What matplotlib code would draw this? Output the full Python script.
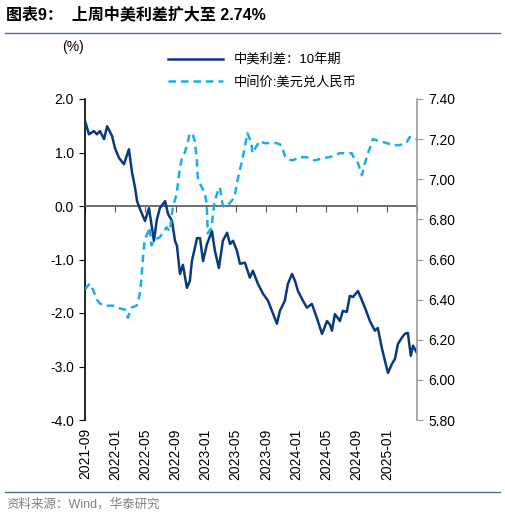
import matplotlib
matplotlib.use("Agg")
import matplotlib.pyplot as plt
import matplotlib.dates as mdates
import pandas as pd
from matplotlib.lines import Line2D

plt.rcParams['font.family'] = ['Liberation Sans', 'Noto Sans CJK SC', 'DejaVu Sans']

# 中美利差：10年期 (%)
spread_dates = [
    "2021-09-01", "2021-09-17", "2021-10-07", "2021-10-19", "2021-10-31", "2021-11-17",
    "2021-11-29", "2021-12-19", "2021-12-31", "2022-01-16", "2022-02-05", "2022-02-25",
    "2022-03-10", "2022-03-22", "2022-03-30", "2022-04-11", "2022-05-01", "2022-05-17",
    "2022-06-06", "2022-06-18", "2022-06-30", "2022-07-21", "2022-08-02", "2022-08-18",
    "2022-08-30", "2022-09-07", "2022-09-19", "2022-10-01", "2022-10-17", "2022-10-29",
    "2022-11-06", "2022-11-27", "2022-12-09", "2022-12-21", "2023-01-06", "2023-01-26",
    "2023-02-07", "2023-02-23", "2023-03-11", "2023-03-28", "2023-04-09", "2023-04-21",
    "2023-05-07", "2023-05-19", "2023-06-08", "2023-06-28", "2023-07-10", "2023-07-31",
    "2023-08-20", "2023-09-09", "2023-09-25", "2023-10-15", "2023-10-27", "2023-11-16",
    "2023-11-28", "2023-12-15", "2023-12-27", "2024-01-08", "2024-01-28", "2024-02-13",
    "2024-03-04", "2024-03-24", "2024-04-14", "2024-05-04", "2024-05-16", "2024-05-24",
    "2024-06-05", "2024-06-25", "2024-07-07", "2024-07-23", "2024-08-04", "2024-08-17",
    "2024-09-06", "2024-09-18", "2024-10-04", "2024-10-24", "2024-11-13", "2024-11-25",
    "2024-12-11", "2024-12-24", "2025-01-05", "2025-01-21", "2025-02-02", "2025-02-14",
    "2025-03-02", "2025-03-14", "2025-03-26", "2025-04-07", "2025-04-16", "2025-05-01",
]
spread_vals = [
    1.59, 1.34, 1.40, 1.34, 1.40, 1.25,
    1.49, 1.31, 1.08, 0.90, 0.78, 1.06,
    0.62, 0.34, 0.09, -0.06, -0.28, -0.04,
    -0.65, -0.25, -0.04, 0.09, -0.15, -0.28,
    -0.65, -0.75, -1.27, -1.10, -1.53, -1.40,
    -1.03, -0.60, -0.60, -1.03, -0.71, -0.47,
    -0.84, -1.16, -0.65, -0.50, -0.71, -0.65,
    -0.84, -1.08, -1.06, -1.34, -1.21, -1.46,
    -1.64, -1.77, -1.96, -2.20, -1.96, -1.77,
    -1.46, -1.27, -1.40, -1.59, -1.77, -1.90,
    -1.83, -2.09, -2.39, -2.15, -2.22, -2.33,
    -2.02, -2.15, -1.96, -1.98, -1.68, -1.70,
    -1.59, -1.72, -1.90, -2.15, -2.33, -2.28,
    -2.65, -2.90, -3.12, -2.95, -2.86, -2.58,
    -2.46, -2.39, -2.37, -2.80, -2.61, -2.74,
]

# 中间价:美元兑人民币
fx_dates = [
    "2021-09-01", "2021-09-13", "2021-09-21", "2021-10-03", "2021-10-19", "2021-10-31",
    "2021-11-28", "2021-12-23", "2022-01-20", "2022-02-09", "2022-02-21", "2022-03-08",
    "2022-03-28", "2022-04-09", "2022-04-17", "2022-04-21", "2022-04-29", "2022-05-11",
    "2022-05-19", "2022-05-27", "2022-06-09", "2022-06-29", "2022-07-27", "2022-08-09",
    "2022-08-21", "2022-09-06", "2022-09-18", "2022-09-26", "2022-10-08", "2022-10-20",
    "2022-10-28", "2022-11-10", "2022-11-18", "2022-11-26", "2022-11-30", "2022-12-08",
    "2022-12-16", "2022-12-28", "2023-01-05", "2023-01-09", "2023-01-25", "2023-01-30",
    "2023-02-07", "2023-02-19", "2023-02-27", "2023-03-09", "2023-03-17", "2023-04-07",
    "2023-04-27", "2023-05-09", "2023-05-25", "2023-06-06", "2023-06-18", "2023-07-04",
    "2023-07-08", "2023-07-20", "2023-08-06", "2023-08-26", "2023-09-16", "2023-10-14",
    "2023-11-03", "2023-11-15", "2023-11-27", "2023-12-17", "2024-01-15", "2024-02-12",
    "2024-03-15", "2024-04-16", "2024-05-27", "2024-06-24", "2024-07-22", "2024-08-11",
    "2024-08-24", "2024-09-06", "2024-09-22", "2024-10-04", "2024-10-16", "2024-11-01",
    "2024-11-05", "2024-12-03", "2025-01-01", "2025-01-25", "2025-02-22", "2025-03-20",
    "2025-04-02", "2025-04-22", "2025-05-01",
]
fx_vals = [
    6.45, 6.47, 6.48, 6.45, 6.40, 6.38,
    6.37, 6.37, 6.356, 6.35, 6.31, 6.36,
    6.37, 6.42, 6.51, 6.58, 6.695, 6.73,
    6.76, 6.67, 6.70, 6.71, 6.76, 6.74,
    6.86, 6.93, 7.05, 7.10, 7.13, 7.18,
    7.23, 7.22, 7.19, 7.10, 7.01, 6.98,
    6.96, 6.93, 6.88, 6.73, 6.76, 6.83,
    6.895, 6.94, 6.96, 6.88, 6.86, 6.88,
    6.91, 6.995, 7.08, 7.15, 7.23, 7.18,
    7.13, 7.155, 7.19, 7.18, 7.18, 7.18,
    7.17, 7.12, 7.10, 7.094, 7.11, 7.11,
    7.094, 7.104, 7.114, 7.13, 7.13, 7.13,
    7.10, 7.08, 7.02, 7.08, 7.13, 7.18,
    7.20, 7.19, 7.18, 7.17, 7.17, 7.18,
    7.21, 7.20, 7.20,
]

dark_blue = '#0A3A7E'
light_blue = '#1AADE8'

fig = plt.figure(figsize=(5.06, 5.17), dpi=100)
ax = fig.add_axes([85 / 506, 1 - 420 / 517, 332 / 506, 321 / 517])
ax2 = ax.twinx()

sd = pd.to_datetime(spread_dates)
fd = pd.to_datetime(fx_dates)
ax.plot(sd, spread_vals, color=dark_blue, lw=1.8, zorder=3)
ax2.plot(fd, fx_vals, color=light_blue, lw=1.8, dashes=(3, 2))

ax.set_ylim(-4, 2)
ax.set_yticks([-4, -3, -2, -1, 0, 1, 2])
ax.set_yticklabels([f"{v:.1f}" for v in [-4, -3, -2, -1, 0, 1, 2]])
ax2.set_ylim(5.8, 7.4)
rticks = [5.8, 6.0, 6.2, 6.4, 6.6, 6.8, 7.0, 7.2, 7.4]
ax2.set_yticks(rticks)
ax2.set_yticklabels([f"{v:.2f}" for v in rticks])

ax.set_xlim(pd.Timestamp("2021-09-01"), pd.Timestamp("2025-05-02"))
xt = pd.date_range("2021-09-01", "2025-01-01", freq="4MS")

# x-axis line at zero with tick marks
ax.spines['bottom'].set_position(('data', 0))
ax.spines['bottom'].set_color('#555555')
ax.spines['bottom'].set_linewidth(1.2)
ax.set_xticks(list(xt) + [pd.Timestamp("2025-05-01")])
ax.tick_params(axis='x', direction='out', length=4, color='#555555', labelbottom=False)

# date labels at the bottom
sec = ax.secondary_xaxis('bottom')
sec.set_xticks(xt)
sec.xaxis.set_major_formatter(mdates.DateFormatter('%Y-%m'))
sec.tick_params(axis='x', length=0, labelsize=10, rotation=90, pad=6)
sec.spines['bottom'].set_visible(False)

for a in (ax, ax2):
    a.spines['top'].set_visible(False)
    a.patch.set_visible(False)
ax2.spines['bottom'].set_visible(False)
ax2.spines['left'].set_visible(False)
ax.spines['right'].set_visible(False)
ax.spines['left'].set_color('black')
ax.spines['left'].set_linewidth(1.2)
ax2.spines['right'].set_color('#999999')
ax2.spines['right'].set_linewidth(1.2)
ax.tick_params(axis='y', direction='out', length=4, labelsize=10, pad=4)
ax2.tick_params(axis='y', direction='out', length=4, color='#999999', labelsize=10, pad=4)

handles = [Line2D([], [], color=dark_blue, lw=1.8),
           Line2D([], [], color=light_blue, lw=1.8, dashes=(3, 2))]
fig.legend(handles, ["中美利差：10年期", "中间价:美元兑人民币"],
           loc='upper left', bbox_to_anchor=(156 / 506, 1 - 42 / 517),
           frameon=False, fontsize=9.5, handlelength=4.2, labelspacing=0.65,
           handletextpad=0.8)

fig.text(62 / 506, 1 - 47 / 517, "(%)", fontsize=10, va='center')

fig.text(6 / 506, 1 - 14 / 517, "图表9：  上周中美利差扩大至 2.74%",
         fontsize=11.5, fontweight='bold', va='center')
fig.add_artist(Line2D([5 / 506, 500 / 506], [1 - 33 / 517] * 2, color='#4A6FA5', lw=1.0))
fig.add_artist(Line2D([5 / 506, 500 / 506], [1 - 492 / 517] * 2, color='#4A6FA5', lw=1.0))
fig.text(6 / 506, 1 - 504 / 517, "资料来源：Wind，华泰研究", fontsize=9,
         color='#808080', va='center')

fig.savefig("out.png", dpi=100)
